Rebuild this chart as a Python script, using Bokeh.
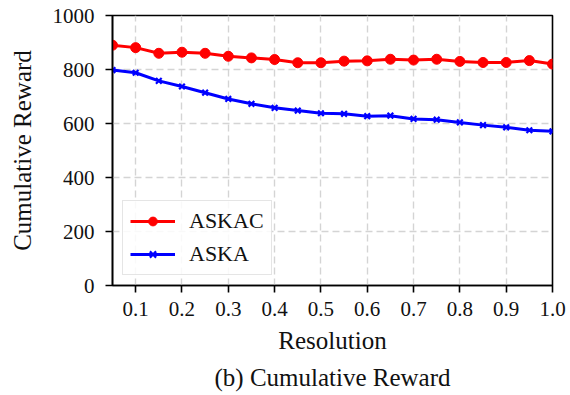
from bokeh.plotting import figure
from bokeh.models import (FixedTicker, NumeralTickFormatter, Legend, LegendItem,
                          Range1d, Title)
from bokeh.embed import file_html
from bokeh.resources import INLINE

# Resolution settings and cumulative reward for each method
resolution = [0.05, 0.10, 0.15, 0.20, 0.25, 0.30, 0.35, 0.40, 0.45, 0.50,
              0.55, 0.60, 0.65, 0.70, 0.75, 0.80, 0.85, 0.90, 0.95, 1.00]
askac = [890, 881, 860, 864, 860, 849, 843, 837, 825, 825,
         831, 832, 838, 835, 838, 830, 826, 826, 833, 820]
aska = [798, 788, 758, 737, 714, 691, 673, 658, 648, 638,
        636, 627, 629, 617, 614, 604, 594, 586, 575, 571]

x_ticks = [0.1, 0.2, 0.3, 0.4, 0.5, 0.6, 0.7, 0.8, 0.9, 1.0]
y_ticks = [0, 200, 400, 600, 800, 1000]

FONT = "Liberation Serif"

p = figure(width=570, height=395, output_backend="svg", toolbar_location=None,
           x_range=Range1d(0.05, 1.0), y_range=Range1d(0, 1000),
           min_border_left=112, min_border_right=18, min_border_top=15,
           min_border_bottom=109)
p.background_fill_color = "white"
p.border_fill_color = "white"
p.outline_line_color = "black"
p.outline_line_width = 1.6
p.outline_line_alpha = 1.0

# axes
for ax in (p.xaxis[0], p.yaxis[0]):
    ax.axis_line_color = "black"
    ax.axis_line_width = 1.6
    ax.major_tick_line_width = 1.6
    ax.major_tick_out = 7
    ax.major_tick_in = 0
    ax.minor_tick_out = 0
    ax.minor_tick_in = 0
    ax.major_label_text_font = FONT
    ax.major_label_text_font_size = "21px"
    ax.major_label_text_color = "#111111"
    ax.axis_label_text_font = FONT
    ax.axis_label_text_font_size = "25px"
    ax.axis_label_text_font_style = "normal"
    ax.axis_label_text_color = "#111111"

p.xaxis.ticker = FixedTicker(ticks=x_ticks)
p.xaxis.formatter = NumeralTickFormatter(format="0.0")
p.xaxis.axis_label = "Resolution"
p.xaxis.major_label_standoff = 9
p.xaxis.axis_label_standoff = 8

p.yaxis.ticker = FixedTicker(ticks=y_ticks)
p.yaxis.axis_label = "Cumulative Reward"
p.yaxis.major_label_standoff = 11
p.yaxis.axis_label_standoff = 14

# dashed grid
for g in (p.xgrid[0], p.ygrid[0]):
    g.grid_line_color = "#d4d4d4"
    g.grid_line_width = 1.4
    g.grid_line_dash = "7 4"
p.xgrid.ticker = FixedTicker(ticks=x_ticks)
p.ygrid.ticker = FixedTicker(ticks=y_ticks)

# series
r1 = p.line(resolution, askac, line_color="red", line_width=3)
m1 = p.scatter(resolution, askac, marker="circle", size=10,
               fill_color="red", line_color="red")
r2 = p.line(resolution, aska, line_color="blue", line_width=3)
m2 = p.scatter(resolution, aska, marker="x", size=8,
               line_color="blue", line_width=2.2)

legend = Legend(items=[LegendItem(label="ASKAC", renderers=[r1, m1]),
                       LegendItem(label="ASKA", renderers=[r2, m2])],
                location="bottom_left")
legend.label_text_font = FONT
legend.label_text_font_size = "22px"
legend.label_text_color = "#111111"
legend.glyph_width = 45
legend.glyph_height = 22
legend.label_standoff = 14
legend.spacing = 7
legend.padding = 7
legend.margin = 10
legend.border_line_color = "#cccccc"
legend.border_line_width = 1.5
legend.background_fill_alpha = 0.85
p.add_layout(legend)

caption = Title(text="(b) Cumulative Reward", align="center",
                text_font=FONT, text_font_size="25px",
                text_font_style="normal", text_color="#111111")
p.add_layout(caption, "below")

open("out.html", "w").write(file_html(p, INLINE))
